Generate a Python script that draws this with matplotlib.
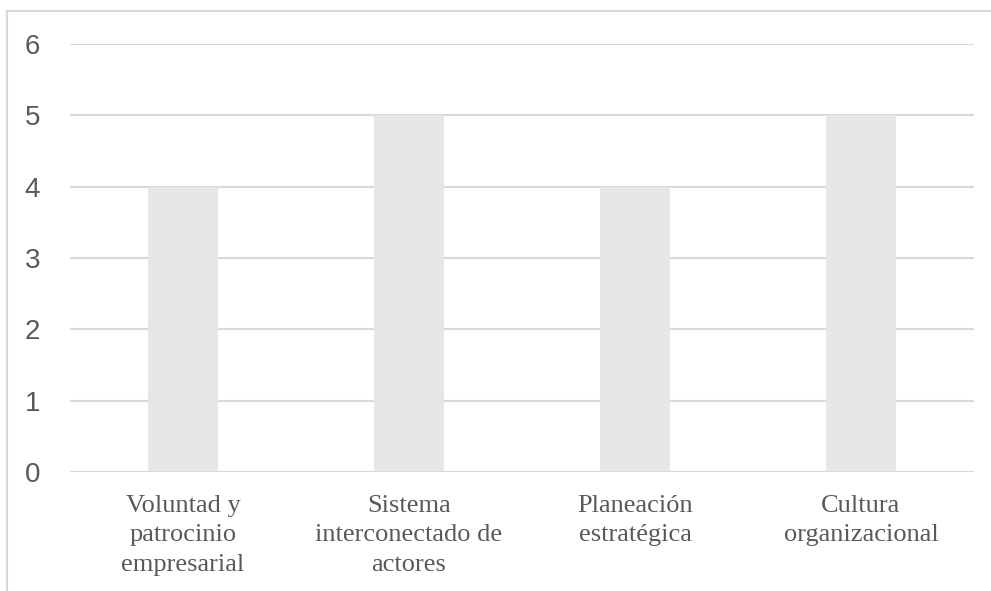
import matplotlib
matplotlib.use("Agg")
from matplotlib import pyplot as plt
from matplotlib.lines import Line2D

categorias = ["Voluntad y\npatrocinio\nempresarial",
              "Sistema\ninterconectado de\nactores",
              "Planeación\nestratégica",
              "Cultura\norganizacional"]
valores = [4, 5, 4, 5]
yticks = [0, 1, 2, 3, 4, 5, 6]

texto = "#595959"
rejilla = "#d9d9d9"

fig = plt.figure(figsize=(9.91, 5.91), dpi=100)
ax = fig.add_axes([70 / 991, 1 - 472 / 591, 904 / 991, 428 / 591])

x = range(len(categorias))
ax.bar(x, valores, width=0.314, color="#e7e7e7", zorder=2)
ax.set_xlim(-0.5, len(categorias) - 0.5)
ax.set_ylim(0, 6)
ax.set_yticks(yticks)
ax.set_yticklabels([str(v) for v in yticks], fontsize=20,
                   family="Liberation Sans", color=texto)
ax.set_xticks(list(x))
ax.set_xticklabels(categorias, fontsize=19, family="Liberation Serif",
                   color=texto, linespacing=1.44)
ax.tick_params(axis="y", length=0, pad=21.5)
ax.tick_params(axis="x", length=0, pad=16.5)
ax.grid(axis="y", color=rejilla, linewidth=1.5, zorder=0)
for s in ax.spines.values():
    s.set_visible(False)
ax.axhline(0, color=rejilla, linewidth=1.5, zorder=3)

# borde del gráfico (solo arriba e izquierda visibles)
fig.add_artist(Line2D([7 / 991, 1], [1 - 11 / 591] * 2, color=rejilla, linewidth=1.5))
fig.add_artist(Line2D([7 / 991] * 2, [0, 1 - 11 / 591], color=rejilla, linewidth=1.5))

plt.savefig("out.png", dpi=100)
